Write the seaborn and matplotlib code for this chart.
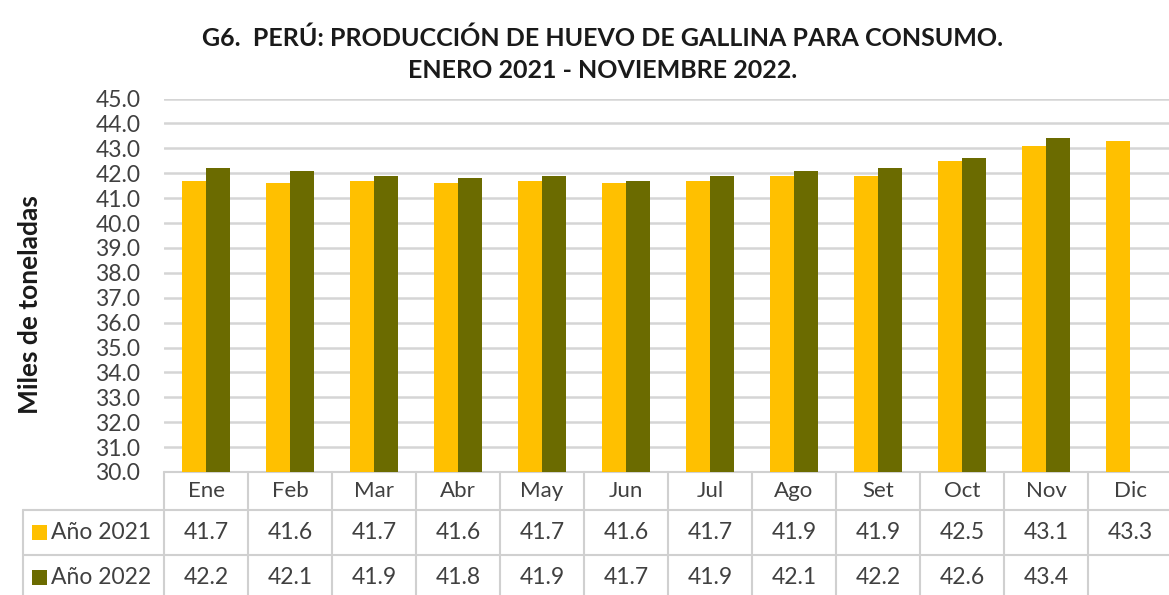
import numpy as np
import pandas as pd
import matplotlib
matplotlib.use("Agg")
import matplotlib.pyplot as plt
import matplotlib.transforms as mtransforms
from matplotlib.patches import Rectangle
import seaborn as sns

# data
meses = ['Ene', 'Feb', 'Mar', 'Abr', 'May', 'Jun', 'Jul', 'Ago', 'Set', 'Oct', 'Nov', 'Dic']
anio_2021 = [41.7, 41.6, 41.7, 41.6, 41.7, 41.6, 41.7, 41.9, 41.9, 42.5, 43.1, 43.3]
anio_2022 = [42.2, 42.1, 41.9, 41.8, 41.9, 41.7, 41.9, 42.1, 42.2, 42.6, 43.4, np.nan]
series = ['Año 2021', 'Año 2022']
colores = ['#FFC000', '#6B6B00']
y_ticks = np.arange(30, 46, 1)

sns.set_theme(style="white")
plt.rcParams['font.family'] = ['Lato', 'DejaVu Sans']

df = pd.DataFrame({
    'mes': meses * 2,
    'valor': anio_2021 + anio_2022,
    'serie': [series[0]] * len(meses) + [series[1]] * len(meses),
})

fig = plt.figure(figsize=(11.69, 5.95), dpi=100)
ax = fig.add_axes([164 / 1169, 123 / 595, 1008 / 1169, 373.5 / 595])

sns.barplot(data=df, x='mes', y='valor', hue='serie', palette=colores,
            width=0.57, saturation=1, linewidth=0, ax=ax, legend=False, zorder=3)

ax.set_ylim(30, 45)
ax.set_xlim(-0.5, len(meses) - 0.5)
ax.set_yticks(y_ticks)
ax.set_yticklabels([f'{v:.1f}' for v in y_ticks], fontsize=16.5, color='#404040')
ax.tick_params(axis='y', length=0, pad=17)
ax.set_xticks([])
ax.set_xlabel('')
ax.set_ylabel('Miles de toneladas', fontsize=19, fontweight='bold', color='#1a1a1a')
ax.yaxis.set_label_coords(-0.121, 0.447)
ax.grid(axis='y', color='#D5D5D5', linewidth=1.8, zorder=0)
for s in ax.spines.values():
    s.set_visible(False)

# data table under the plot
trans = mtransforms.blended_transform_factory(ax.transData, ax.transAxes)
h_head = 38 / 373.5
h_row = 45 / 373.5
row_lines = [0, -h_head, -h_head - h_row, -h_head - 2 * h_row]
line_kw = dict(color='#D0D0D0', linewidth=1.5, transform=trans, clip_on=False)
x_left_label = -0.5 - 141 / 84  # left border of the label column, data units
x_right = len(meses) - 0.5

ax.plot([-0.5, x_right], [0, 0], **line_kw)
for yl in row_lines[1:]:
    ax.plot([x_left_label, x_right], [yl, yl], **line_kw)
for i in range(len(meses) + 1):
    ax.plot([i - 0.5, i - 0.5], [0, row_lines[-1]], **line_kw)
ax.plot([x_left_label, x_left_label], [row_lines[1], row_lines[-1]], **line_kw)

for i, m in enumerate(meses):
    ax.text(i, -h_head / 2, m, ha='center', va='center', fontsize=16,
            color='#404040', transform=trans, clip_on=False)
    for r, vals in enumerate((anio_2021, anio_2022)):
        if not np.isnan(vals[i]):
            yc = -h_head - (r + 0.5) * h_row
            ax.text(i, yc, f'{vals[i]:.1f}', ha='center', va='center',
                    fontsize=16.5, color='#404040', transform=trans, clip_on=False)

for r, (nombre, col) in enumerate(zip(series, colores)):
    yc = -h_head - (r + 0.5) * h_row
    ax.add_patch(Rectangle((x_left_label + 9 / 84, yc - 7.5 / 373.5), 15 / 84, 15 / 373.5,
                           facecolor=col, edgecolor='none', transform=trans, clip_on=False))
    ax.text(x_left_label + 28 / 84, yc, nombre, ha='left', va='center', fontsize=16.5,
            color='#404040', transform=trans, clip_on=False)

fig.text(603 / 1169, 1 - 38 / 595, 'G6.  PERÚ: PRODUCCIÓN DE HUEVO DE GALLINA PARA CONSUMO.',
         ha='center', va='center', fontsize=18, fontweight='bold', color='#1a1a1a')
fig.text(603 / 1169, 1 - 70 / 595, 'ENERO 2021 - NOVIEMBRE 2022.',
         ha='center', va='center', fontsize=18, fontweight='bold', color='#1a1a1a')

fig.savefig('out.png', dpi=100)
